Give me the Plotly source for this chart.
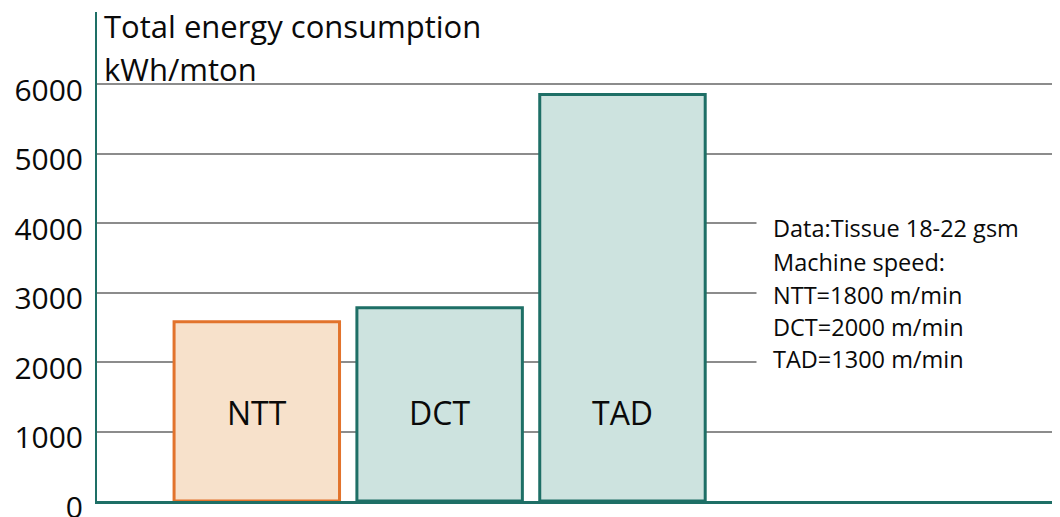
import plotly.graph_objects as go

# ---- data ----
categories = ["NTT", "DCT", "TAD"]
values = [2580, 2780, 5850]
fill_colors = ["#f7e1cb", "#cde3df", "#cde3df"]
line_colors = ["#e2732c", "#1e6f66", "#1e6f66"]
tick_vals = [0, 1000, 2000, 3000, 4000, 5000, 6000]
tick_text = [str(v) for v in tick_vals]
title_lines = ["Total energy consumption", "kWh/mton"]
note_lines = ["Data:Tissue 18-22 gsm", "Machine speed:", "NTT=1800 m/min",
              "DCT=2000 m/min", "TAD=1300 m/min"]
label_value = 1270

# ---- layout geometry (page pixels; the page body adds an 8px margin) ----
OFF = 8
PAGE_W, PAGE_H = 1060, 517
W, H = PAGE_W - OFF, PAGE_H - OFF
AXIS_X, TOP_Y, ZERO_Y = 97, 12, 501          # page pixels
L = AXIS_X - OFF
T = TOP_Y - OFF
B = (PAGE_H - ZERO_Y)
R = 0
plot_w = W - L - R
plot_h = H - T - B


def py(p):
    """page pixel y -> paper y"""
    return (ZERO_Y - p) / plot_h


def px(p):
    """page pixel x -> paper x"""
    return (p - AXIS_X) / plot_w


FONT = "Open Sans"
WEIGHT = 500
TEAL = "#1e6f66"
INK = "#0a0a0a"

fig = go.Figure()
fig.add_trace(go.Bar(
    x=categories, y=values, width=0.905,
    marker=dict(color=fill_colors, line=dict(color=line_colors, width=3)),
    hoverinfo="skip", showlegend=False,
))

annotations = []
for c in categories:
    annotations.append(dict(x=c, y=label_value, xref="x", yref="y", text=c,
                            showarrow=False,
                            font=dict(family=FONT, size=32, color=INK, weight=WEIGHT),
                            xanchor="center", yanchor="middle"))

title_py = [26, 69]
for t, p in zip(title_lines, title_py):
    annotations.append(dict(x=px(102), y=py(p), xref="paper", yref="paper", text=t,
                            showarrow=False,
                            font=dict(family=FONT, size=31, color=INK, weight=WEIGHT),
                            xanchor="left", yanchor="middle"))

# white patch that interrupts the grid lines behind the note
annotations.append(dict(x=px(756), y=py(210), xref="paper", yref="paper", text=" ",
                        showarrow=False, xanchor="left", yanchor="top",
                        width=PAGE_W - 756, height=170, bgcolor="white", borderpad=0))

note_py = [228, 262, 295, 327, 359]
for t, p in zip(note_lines, note_py):
    annotations.append(dict(x=px(771), y=py(p), xref="paper", yref="paper", text=t,
                            showarrow=False,
                            font=dict(family=FONT, size=23.5, color=INK, weight=WEIGHT),
                            xanchor="left", yanchor="middle"))

# plot spans AXIS_X..PAGE_W in page pixels; bar centres at ~256, 440, 623
fig.update_layout(
    width=W, height=H,
    margin=dict(l=L, r=R, t=T, b=B, pad=0),
    paper_bgcolor="white", plot_bgcolor="white",
    annotations=annotations,
    xaxis=dict(range=[-0.874, 4.393], showticklabels=False, ticks="",
               showgrid=False, zeroline=False, showline=True, automargin=False,
               linecolor=TEAL, linewidth=3, fixedrange=True),
    yaxis=dict(range=[0, 7036], tickvals=tick_vals, ticktext=tick_text,
               tickfont=dict(family=FONT, size=30, color=INK, weight=WEIGHT),
               ticks="", ticklabelstandoff=6, ticklabelshift=6,
               ticklabeloverflow="allow", automargin=False,
               showgrid=True, gridcolor="#8c8c8c", gridwidth=1.5,
               zeroline=False, showline=True, linecolor=TEAL, linewidth=2,
               fixedrange=True),
)

fig.write_html("out.html")
